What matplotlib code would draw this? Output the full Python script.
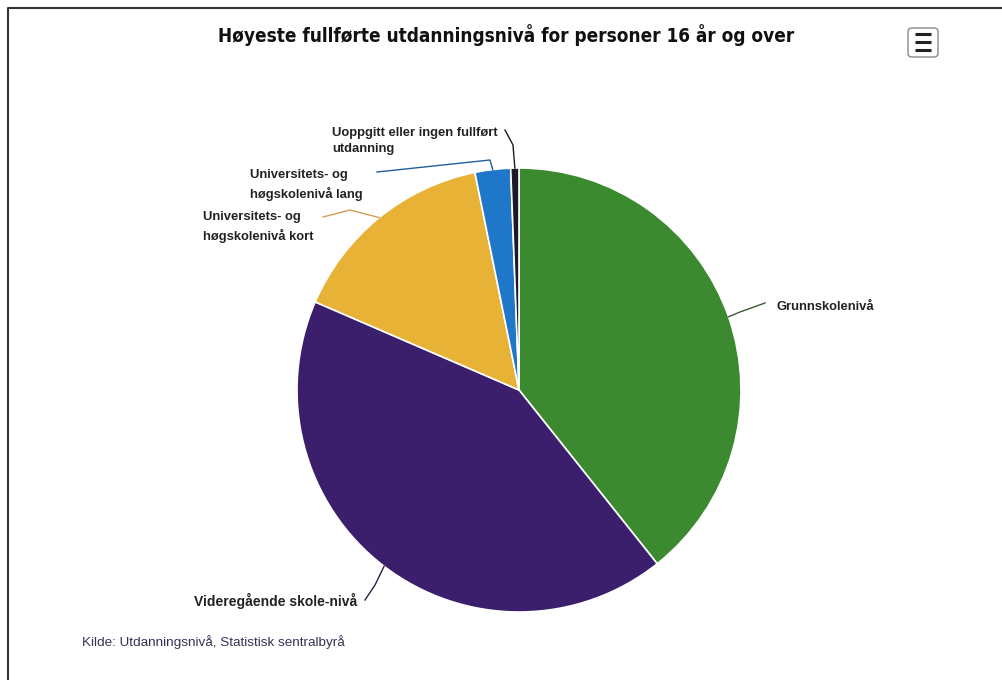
import numpy as np
import matplotlib
matplotlib.use("Agg")
import matplotlib.pyplot as plt
from matplotlib.patches import FancyBboxPatch

categories = ["Grunnskolenivå", "Videregående skole-nivå", "Universitets- og\nhøgskolenivå kort",
              "Universitets- og\nhøgskolenivå lang", "Uoppgitt eller ingen fullført\nutdanning"]
values = [39.5, 42.4, 15.4, 2.6, 0.6]
colors = ["#3b8a30", "#3c1f6c", "#e8b236", "#1f77c9", "#1a1a2a"]
title = "Høyeste fullførte utdanningsnivå for personer 16 år og over"
source = "Kilde: Utdanningsnivå, Statistisk sentralbyrå"

W, H = 1003, 680
fig = plt.figure(figsize=(W / 100, H / 100), dpi=100)
ax = fig.add_axes([0, 0, 1, 1])

cx, cy, R = 519, H - 390, 222
wedges, _ = ax.pie(values, colors=colors, startangle=90, counterclock=False,
                   center=(cx, cy), radius=R, frame=True,
                   wedgeprops=dict(edgecolor="white", linewidth=1.2))
ax.set_xlim(0, W)
ax.set_ylim(0, H)
ax.set_aspect("equal")
ax.axis("off")

# frame of scanned page
ax.plot([8, 8, W], [0, H - 8, H - 8], color="#333333", lw=1.5)

ax.text(506, H - 35, title, ha="center", va="center", fontsize=13.6, fontweight="bold",
        family=["DejaVu Sans"], fontstretch="condensed", color="#111111")

# hamburger icon
ax.add_patch(FancyBboxPatch((908, H - 57), 30, 29, boxstyle="round,pad=0,rounding_size=4",
                            fc="white", ec="#888888", lw=1))
for dy in (-8, 0, 8):
    ax.plot([915, 931], [H - 42 + dy, H - 42 + dy], color="#222222", lw=2.2, solid_capstyle="butt")

label_pos = [
    (777, 307, "left"),
    (357, 601, "right"),
    (203, 227, "left"),
    (250, 185, "left"),
    (332, 141, "left"),
]
conn_end = [
    (765, 303),
    (365, 600),
    (323, 217),
    (377, 172),
    (505, 130),
]
mid_pts = [
    (740, 312),
    (375, 585),
    (350, 210),
    (490, 160),
    (513, 145),
]
line_colors = ["#3b5a30", "#2c1f4c", "#d0a050", "#1f5f9c", "#1a1a2a"]

for i, w in enumerate(wedges):
    ang = np.deg2rad((w.theta1 + w.theta2) / 2)
    ex, ey = cx + R * np.cos(ang), cy + R * np.sin(ang)
    mx, my = mid_pts[i]
    kx, ky = conn_end[i]
    ax.plot([ex, mx, kx], [ey, H - my, H - ky], color=line_colors[i], lw=1)
    tx, ty, ha = label_pos[i]
    fs = 10.0 if i == 1 else 9.4
    ax.text(tx, H - ty, categories[i], ha=ha, va="center", fontsize=fs, fontweight="bold",
            family=["Liberation Sans", "DejaVu Sans"], color="#222222", linespacing=1.5)

ax.text(82, H - 642, source, ha="left", va="center", fontsize=9.7,
        family=["Liberation Sans", "DejaVu Sans"], color="#333355")

fig.savefig("out.png", dpi=100)
